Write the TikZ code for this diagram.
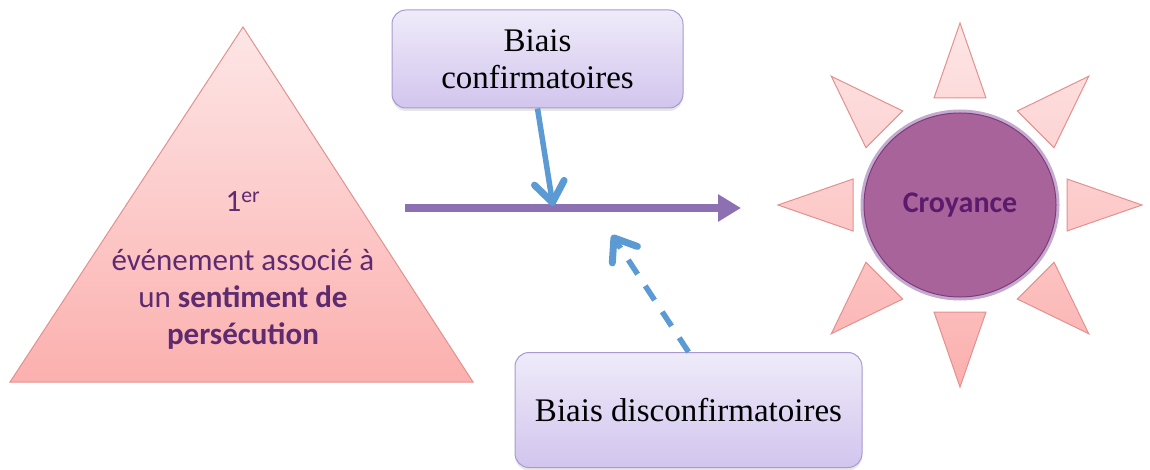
\documentclass[tikz,border=0pt]{standalone}
\usepackage{fontspec}
\setmainfont{Liberation Serif}
\newfontfamily\carlito{Carlito}
\usepackage{xcolor}
\usepackage{tikz}
\usetikzlibrary{positioning, calc, arrows.meta, shapes.geometric, shadows}

\definecolor{boxtop}{HTML}{EFEBF9}
\definecolor{boxbot}{HTML}{D2C5EE}
\definecolor{boxline}{HTML}{A999CF}
\definecolor{raytop}{HTML}{FDE6E6}
\definecolor{raybot}{HTML}{FBB0AE}
\definecolor{rayline}{HTML}{E3918E}
\definecolor{txtpurple}{HTML}{5E2A70}
\definecolor{mainpurple}{HTML}{8C70B1}
\definecolor{bleu}{HTML}{5B9AD2}
\definecolor{sunfill}{HTML}{A8649A}
\definecolor{sunglow}{HTML}{9C72AE}
\definecolor{sunline}{HTML}{7E3B7C}
\definecolor{croytext}{HTML}{5C1A6C}

\begin{document}
\begin{tikzpicture}[x=1pt, y=-1pt,
		biais/.style={rectangle, rounded corners=14pt, draw=boxline, line width=1pt, top color=boxtop, bottom color=boxbot, align=center, text=black, font=\fontsize{33}{37}\selectfont, drop shadow={shadow xshift=0pt, shadow yshift=-3pt, opacity=.2}},
		ray/.style={draw=rayline, line width=1pt, top color=raytop, bottom color=raybot},
		fleche/.style={line width=5.5pt, bleu, -{Straight Barb[length=20pt, width=30pt, line width=7pt, round]}}]
		\useasboundingbox (0,0) rectangle (1150,470);
		\path[ray] (243,27) -- (473,382) -- (10,382) -- cycle;
		\node[text=txtpurple, font=\carlito\fontsize{31}{37}\selectfont] (rang) at(243,202) {1\textsuperscript{er}};
		\node[text=txtpurple, font=\carlito\fontsize{31}{37}\selectfont, align=center] (evt) at(243,299) {événement associé à\\un \textbf{sentiment de}\\\textbf{persécution}};
		\node[biais, minimum width=291pt, minimum height=98pt] (conf) at(537.5,59) {Biais\\confirmatoires};
		\node[biais, minimum width=347pt, minimum height=115pt] (disc) at(688.5,410) {Biais disconfirmatoires};
		\node[ellipse, minimum width=192pt, minimum height=184pt, fill=sunfill, draw=sunline, line width=1pt, preaction={draw=sunglow, line width=7pt, opacity=.6}, text=croytext, font=\carlito\bfseries\fontsize{30}{34}\selectfont] (croy) at(960,205) {Croyance};
		\path[ray] \foreach \a in {0,45,...,315} {
			($(croy.center)+(\a:107)+(\a+90:26)$) -- ($(croy.center)+(\a:182)$) -- ($(croy.center)+(\a:107)+(\a-90:26)$) -- cycle
		};
		\coordinate (dep) at(405,208);
		\coordinate (arr) at(741,208);
		\coordinate (pc) at(553,206);
		\coordinate (pd) at(612,235);
		\draw[line width=8pt, mainpurple, -{Triangle[length=23pt, width=26pt]}] (dep) -- (arr);
		\draw[fleche] (conf.south) -- (pc);
		\draw[fleche, dash pattern=on 17pt off 14pt] (disc.north) -- (pd);
	\end{tikzpicture}
\end{document}
